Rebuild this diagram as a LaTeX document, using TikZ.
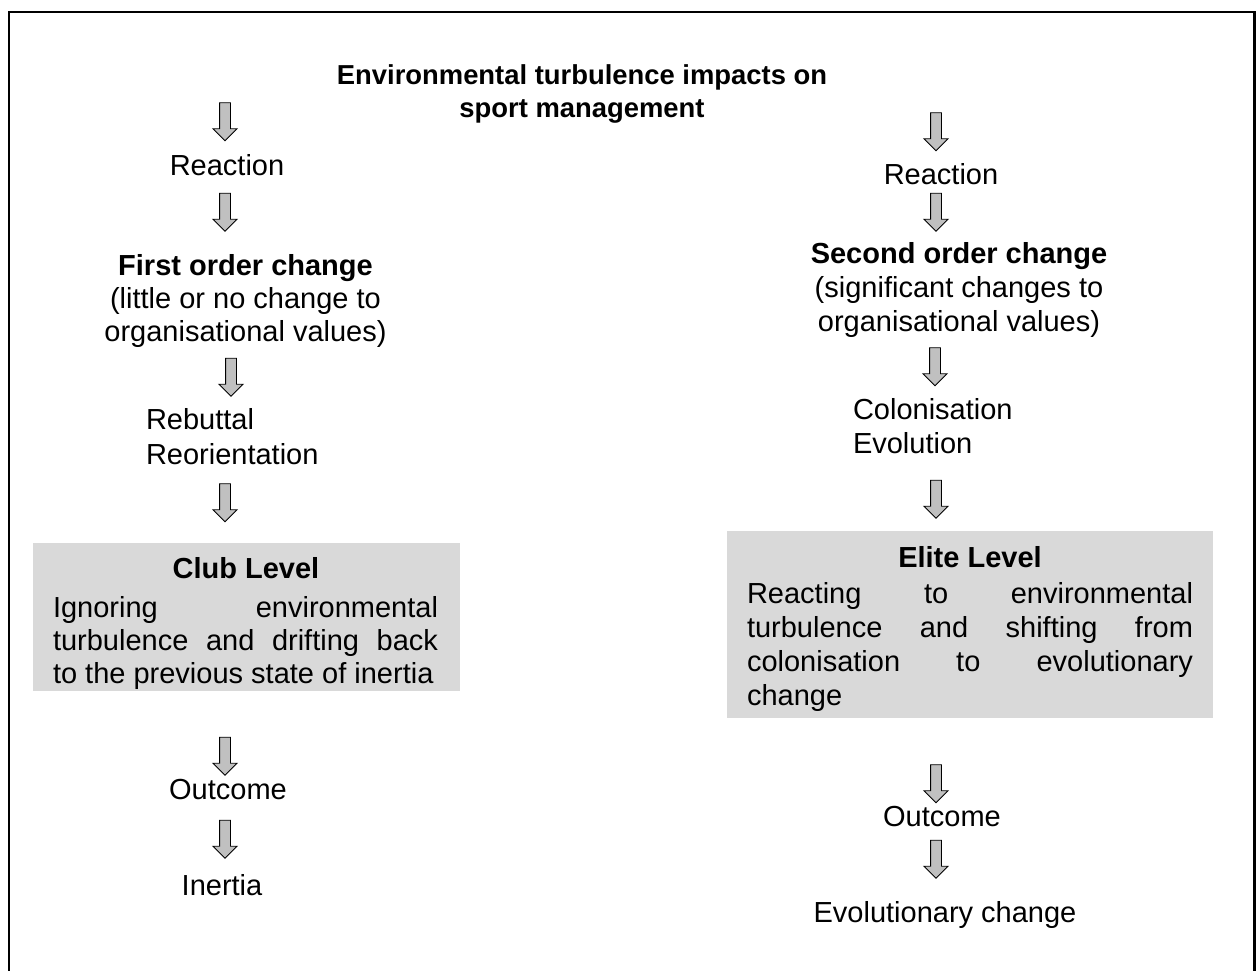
\documentclass[tikz,border=0pt]{standalone}
\usepackage{fontspec}
\setmainfont{Liberation Sans}
\usetikzlibrary{shapes.arrows}
\definecolor{arrowgray}{HTML}{C0C0C0}
\definecolor{panelgray}{HTML}{D9D9D9}
\begin{document}
\begin{tikzpicture}[x=1pt,y=-1pt,
  every node/.style={inner sep=0pt, outer sep=0pt, font=\fontsize{29}{33}\selectfont},
  % multi-line nodes: the base anchor sits on the last line
  txt/.style={anchor=base, align=center},
  ltxt/.style={anchor=base west, align=left},
  hd/.style={txt, font=\fontsize{29}{33}\selectfont\bfseries},
  blockarrow/.style={single arrow, draw=black, fill=arrowgray, line width=0.9pt,
    minimum height=38pt, inner xsep=0pt, inner ysep=5pt,
    single arrow head extend=6.5pt, single arrow head indent=0pt,
    rotate=-90, font=\tiny},
  panel/.style={fill=panelgray, draw=none, anchor=north west}]
\useasboundingbox (0,0) rectangle (1256,970);
\clip (0,0) rectangle (1256,970);
% outer frame (runs past the lower edge)
\draw[line width=2.6pt] (9,12) rectangle (1254.7,1000);

% heading
\node[hd, font=\fontsize{27.4}{33}\selectfont\bfseries] (title) at (582,117) {Environmental turbulence impacts on\\sport management};

% left branch
\node[blockarrow] (la1) at (225,119) {};
\node[txt] (lreact) at (227,175) {Reaction};
\node[blockarrow] (la2) at (225,209.5) {};
\node[txt] (first) at (245.5,341) {\textbf{First order change}\\(little or no change to\\organisational values)};
\node[blockarrow] (la3) at (231,374.5) {};
\node[ltxt] (rebut) at (146,464) {Rebuttal\\[2pt]Reorientation};
\node[blockarrow] (la4) at (225,500) {};
\node[panel, minimum width=427pt, minimum height=148pt] (club) at (33,543) {};
\node[hd] (clubtitle) at (246,578) {Club Level};
\node[ltxt] (clubtext) at (53,683) {\makebox[385pt][s]{Ignoring environmental}\\
  \makebox[385pt][s]{turbulence and drifting back}\\
  to the previous state of inertia};
\node[blockarrow] (la5) at (225,753.5) {};
\node[txt] (lout) at (228,799) {Outcome};
\node[blockarrow] (la6) at (225,836.5) {};
\node[txt] (inertia) at (222,895) {Inertia};

% right branch
\node[blockarrow] (ra1) at (936,129) {};
\node[txt] (rreact) at (941,184) {Reaction};
\node[blockarrow] (ra2) at (936,209.5) {};
\node[txt] (second) at (959,331) {\textbf{Second order change}\\[1pt](significant changes to\\[1pt]organisational values)};
\node[blockarrow] (ra3) at (935,364) {};
\node[ltxt] (colon) at (853,453) {Colonisation\\[1pt]Evolution};
\node[blockarrow] (ra4) at (936,496.5) {};
\node[panel, minimum width=486pt, minimum height=187pt] (elite) at (727,531) {};
\node[hd] (elitetitle) at (970,567) {Elite Level};
\node[ltxt] (elitetext) at (747,705) {\makebox[446pt][s]{Reacting to environmental}\\[1pt]
  \makebox[446pt][s]{turbulence and shifting from}\\[1pt]
  \makebox[446pt][s]{colonisation to evolutionary}\\[1pt]
  change};
\node[blockarrow] (ra5) at (936,781) {};
\node[txt] (rout) at (942,826) {Outcome};
\node[blockarrow] (ra6) at (936,856.5) {};
\node[txt] (evol) at (945,922) {Evolutionary change};
\end{tikzpicture}
\end{document}
